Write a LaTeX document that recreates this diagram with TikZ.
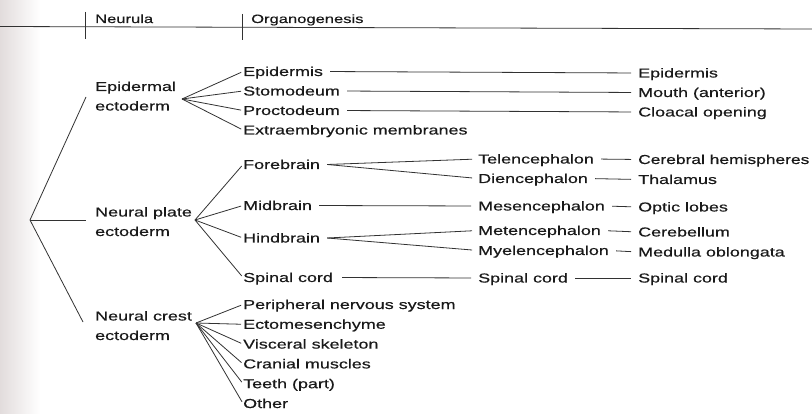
\documentclass[tikz,border=0pt]{standalone}
\usepackage{graphicx}
\usepackage{fontspec}
\setmainfont{Liberation Sans}[FakeStretch=1.38,FakeBold=0.4]
\definecolor{txt}{RGB}{25,25,25}
\definecolor{lin}{RGB}{50,50,50}
\definecolor{strip}{RGB}{226,220,220}
\begin{document}
\begin{tikzpicture}[x=1pt,y=-1pt,
  lbl/.style={anchor=base west, inner sep=0pt, text height=10pt, text depth=1pt,
              font=\fontsize{13}{19.5}\selectfont, text=txt},
  parent/.style={anchor=base west, inner sep=0pt, align=left,
              font=\fontsize{13}{19.5}\selectfont, text=txt},
  head/.style={anchor=base west, inner sep=0pt, font=\fontsize{12}{14}\selectfont, text=txt},
  conn/.style={draw=lin, line width=0.8pt},
  link/.style={conn, shorten <=7pt, shorten >=7pt},
  fan/.style={conn, shorten >=2pt}]
\useasboundingbox (0,0) rectangle (812,414);
\fill[white] (0,0) rectangle (812,414);
\shade[left color=strip, right color=white] (0,0) rectangle (40,414);

% header
\coordinate (hl) at (0,26.5);
\coordinate (hr) at (812,29);
\draw[conn] (hl) -- (hr);
\node[head] (hneu) at (95,23) {Neurula};
\node[head] (horg) at (251,23) {Organogenesis};
\coordinate (t1a) at (85,12); \coordinate (t1b) at (85,39);
\coordinate (t2a) at (242,14); \coordinate (t2b) at (242,40);
\draw[conn] (t1a) -- (t1b);
\draw[conn] (t2a) -- (t2b);

% neurula column (base anchor = baseline of last line)
\node[parent] (ep) at (95,110.5) {Epidermal\\ectoderm};
\node[parent] (np) at (95,236) {Neural plate\\ectoderm};
\node[parent] (nc) at (95,340) {Neural crest\\ectoderm};
\coordinate (root) at (30,220);
\coordinate (epL) at (86,97);
\coordinate (npL) at (86,220);
\coordinate (ncL) at (83,322);
\draw[conn] (root) -- (epL);
\draw[conn] (root) -- (npL);
\draw[conn] (root) -- (ncL);

% organogenesis column 1
\node[lbl] (epi)  at (243,76)   {Epidermis};
\node[lbl] (sto)  at (243,95.5) {Stomodeum};
\node[lbl] (pro)  at (243,115)  {Proctodeum};
\node[lbl] (ext)  at (243,134.5){Extraembryonic membranes};
\node[lbl] (fore) at (243,169)  {Forebrain};
\node[lbl] (mid)  at (243,210)  {Midbrain};
\node[lbl] (hind) at (243,242.5){Hindbrain};
\node[lbl] (spa)  at (243,282)  {Spinal cord};
\node[lbl] (pns)  at (243,309)  {Peripheral nervous system};
\node[lbl] (ecto) at (243,328.8){Ectomesenchyme};
\node[lbl] (visc) at (243,348.6){Visceral skeleton};
\node[lbl] (cran) at (243,368.4){Cranial muscles};
\node[lbl] (teeth)at (243,388.2){Teeth (part)};
\node[lbl] (oth)  at (243,408)  {Other};

% column 2
\node[lbl] (tel)  at (478,163.5){Telencephalon};
\node[lbl] (die)  at (478,183)  {Diencephalon};
\node[lbl] (mes)  at (478,210.5){Mesencephalon};
\node[lbl] (met)  at (478,235)  {Metencephalon};
\node[lbl] (mye)  at (478,255)  {Myelencephalon};
\node[lbl] (spb)  at (478,282.5){Spinal cord};

% column 3
\node[lbl] (epr)  at (638,77.5) {Epidermis};
\node[lbl] (mou)  at (638,97)   {Mouth (anterior)};
\node[lbl] (clo)  at (638,116.5){Cloacal opening};
\node[lbl] (cer)  at (638,164)  {\scalebox{0.97}[1]{Cerebral hemispheres}};
\node[lbl] (tha)  at (638,184)  {Thalamus};
\node[lbl] (opt)  at (638,211.5){Optic lobes};
\node[lbl] (cbl)  at (638,236.5){Cerebellum};
\node[lbl] (med)  at (638,256.5){Medulla oblongata};
\node[lbl] (spc)  at (638,282.5){Spinal cord};

% fans
\coordinate (epA) at (182,99);
\coordinate (npA) at (195,220);
\coordinate (ncA) at (196,323);
\foreach \t in {epi,sto,pro,ext} \draw[fan] (epA) -- (\t.west);
\foreach \t in {fore,mid,hind,spa} \draw[fan] (npA) -- (\t.west);
\foreach \t in {pns,ecto,visc,cran,teeth,oth} \draw[fan] (ncA) -- (\t.west);

% links
\draw[link] (epi.east) -- (epr.west);
\draw[link] (sto.east) -- (mou.west);
\draw[link] (pro.east) -- (clo.west);
\coordinate (foreA) at ([xshift=7pt]fore.east);
\coordinate (hindA) at ([xshift=7pt]hind.east);
\draw[conn, shorten >=6pt] (foreA) -- (tel.west);
\draw[conn, shorten >=6pt] (foreA) -- (die.west);
\draw[conn, shorten >=6pt] (hindA) -- (met.west);
\draw[conn, shorten >=6pt] (hindA) -- (mye.west);
\draw[link] (mid.east) -- (mes.west);
\draw[link, shorten <=9pt] (spa.east) -- (spb.west);
\draw[link] (tel.east) -- (cer.west);
\draw[link] (die.east) -- (tha.west);
\draw[link] (mes.east) -- (opt.west);
\draw[link] (met.east) -- (cbl.west);
\draw[link] (mye.east) -- (med.west);
\draw[link] (spb.east) -- (spc.west);
\end{tikzpicture}
\end{document}
